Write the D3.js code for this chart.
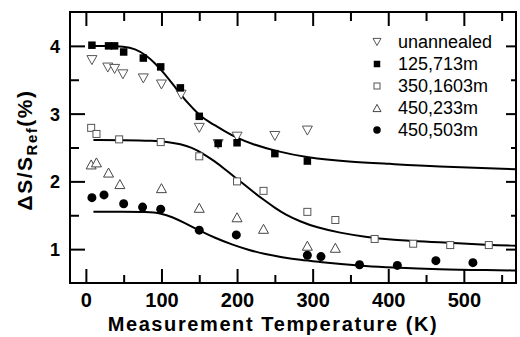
<!DOCTYPE html>
<html>
<head>
<meta charset="utf-8">
<script src="https://cdn.jsdelivr.net/npm/d3@7/dist/d3.min.js"></script>
<style>
  html, body { margin: 0; padding: 0; background: #fff; }
  svg { display: block; }
</style>
</head>
<body>
<svg id="chart" width="520" height="337"></svg>
<script>
// ---- data ----
const xMajorTicks = [0, 100, 200, 300, 400, 500];
const xMinorTicks = [50, 150, 250, 350, 450, 550];
const yMajorTicks = [1, 2, 3, 4];
const yMinorTicks = [1.5, 2.5, 3.5];

const seriesNames = ["unannealed", "125,713m", "350,1603m", "450,233m", "450,503m"];

const unannealedX = [8, 29, 38, 49, 76, 100, 126, 150, 175, 200, 250, 293];
const unannealedY = [3.79, 3.68, 3.66, 3.58, 3.52, 3.43, 3.28, 2.79, 2.55, 2.66, 2.67, 2.75];

const s125X = [8, 30, 38, 50, 76, 99, 125, 150, 175, 200, 250, 293];
const s125Y = [4.01, 4.0, 4.0, 3.91, 3.82, 3.69, 3.38, 2.96, 2.56, 2.57, 2.41, 2.30];

const s350X = [7, 14, 44, 99, 150, 200, 235, 293, 330, 382, 433, 482, 533];
const s350Y = [2.79, 2.70, 2.62, 2.58, 2.37, 2.00, 1.86, 1.55, 1.43, 1.15, 1.08, 1.06, 1.06];

const s233X = [7, 14, 30, 45, 100, 150, 200, 235, 293, 330];
const s233Y = [2.25, 2.28, 2.13, 1.96, 1.90, 1.61, 1.47, 1.30, 1.05, 1.02];

const s503X = [8, 24, 50, 75, 99, 150, 199, 293, 311, 362, 412, 463, 512];
const s503Y = [1.76, 1.80, 1.67, 1.62, 1.59, 1.28, 1.21, 0.91, 0.89, 0.77, 0.76, 0.83, 0.80];

// fitted curves
const fit125X = [10, 30, 50, 65, 80, 91, 105, 118, 135, 150, 162, 184, 200, 220, 250, 292, 349, 400, 460, 569];
const fit125Y = [4.0, 4.0, 3.99, 3.96, 3.86, 3.75, 3.58, 3.39, 3.15, 2.98, 2.88, 2.74, 2.64, 2.55, 2.45, 2.35, 2.29, 2.26, 2.22, 2.18];

const fit350X = [10, 50, 90, 110, 125, 140, 155, 170, 184, 197, 210, 222, 235, 250, 264, 283, 305, 336, 370, 402, 468, 534, 569];
const fit350Y = [2.61, 2.61, 2.60, 2.58, 2.55, 2.50, 2.41, 2.30, 2.18, 2.06, 1.95, 1.84, 1.73, 1.61, 1.51, 1.41, 1.32, 1.24, 1.18, 1.14, 1.10, 1.06, 1.05];

const fit503X = [10, 50, 80, 100, 115, 130, 151, 170, 195, 215, 235, 260, 283, 310, 336, 370, 402, 468, 534, 569];
const fit503Y = [1.55, 1.55, 1.55, 1.53, 1.47, 1.39, 1.27, 1.17, 1.06, 0.99, 0.93, 0.88, 0.84, 0.81, 0.78, 0.75, 0.73, 0.70, 0.69, 0.685];

// ---- layout ----
const L = 70, R = 516, T = 12, B = 283;
const svg = d3.select("#chart");
const x = d3.scaleLinear().domain([-21, 569]).range([L, R]);
const y = d3.scaleLinear().domain([0.5, 4.5]).range([B, T]);

const font = "'Liberation Sans', Arial, Helvetica, sans-serif";

function zip(xs, ys) { return xs.map((v, i) => [v, ys[i]]); }

// ---- axes (ticks inward) ----
function styleAxis(g) {
  g.select(".domain").remove();
  g.selectAll(".tick line").attr("stroke", "#000").attr("stroke-width", 2);
}
// bottom
svg.append("g").attr("transform", `translate(0,${B})`)
  .call(d3.axisBottom(x).tickValues(xMajorTicks).tickSize(-14).tickFormat(d3.format("d")))
  .call(styleAxis)
  .call(g => g.selectAll(".tick text")
    .attr("y", 24).attr("dy", 0)
    .attr("font-family", font).attr("font-weight", "bold").attr("font-size", 20).attr("fill", "#000"));
svg.append("g").attr("transform", `translate(0,${B})`)
  .call(d3.axisBottom(x).tickValues(xMinorTicks).tickSize(-8).tickFormat(""))
  .call(styleAxis);
// top
svg.append("g").attr("transform", `translate(0,${T})`)
  .call(d3.axisTop(x).tickValues(xMajorTicks).tickSize(-14).tickFormat(""))
  .call(styleAxis);
svg.append("g").attr("transform", `translate(0,${T})`)
  .call(d3.axisTop(x).tickValues(xMinorTicks).tickSize(-9).tickFormat(""))
  .call(styleAxis);
// left
svg.append("g").attr("transform", `translate(${L},0)`)
  .call(d3.axisLeft(y).tickValues(yMajorTicks).tickSize(-15).tickFormat(d3.format("d")))
  .call(styleAxis)
  .call(g => g.selectAll(".tick text")
    .attr("x", -10).attr("dy", "0.36em")
    .attr("font-family", font).attr("font-weight", "bold").attr("font-size", 18).attr("fill", "#000"));
svg.append("g").attr("transform", `translate(${L},0)`)
  .call(d3.axisLeft(y).tickValues(yMinorTicks).tickSize(-9).tickFormat(""))
  .call(styleAxis);
// right
svg.append("g").attr("transform", `translate(${R},0)`)
  .call(d3.axisRight(y).tickValues(yMajorTicks).tickSize(-10).tickFormat(""))
  .call(styleAxis);
svg.append("g").attr("transform", `translate(${R},0)`)
  .call(d3.axisRight(y).tickValues(yMinorTicks).tickSize(-5).tickFormat(""))
  .call(styleAxis);

// frame
svg.append("rect").attr("x", L).attr("y", T).attr("width", R - L).attr("height", B - T)
  .attr("fill", "none").attr("stroke", "#000").attr("stroke-width", 2);

// ---- fitted curves ----
const line = d3.line().x(d => x(d[0])).y(d => y(d[1])).curve(d3.curveBasis);
[zip(fit125X, fit125Y), zip(fit350X, fit350Y), zip(fit503X, fit503Y)].forEach(pts => {
  svg.append("path").datum(pts).attr("d", line)
    .attr("fill", "none").attr("stroke", "#000").attr("stroke-width", 2);
});

// ---- markers ----
function drawMarker(g, type, cx, cy, s) {
  if (type === "tridown") {
    const h = s * 0.9;
    g.append("path").attr("d", `M${cx - s / 2},${cy - h / 2}L${cx + s / 2},${cy - h / 2}L${cx},${cy + h / 2}Z`)
      .attr("fill", "#fff").attr("stroke", "#555").attr("stroke-width", 1);
  } else if (type === "triup") {
    const h = s * 0.9;
    g.append("path").attr("d", `M${cx - s / 2},${cy + h / 2}L${cx + s / 2},${cy + h / 2}L${cx},${cy - h / 2}Z`)
      .attr("fill", "#fff").attr("stroke", "#444").attr("stroke-width", 1);
  } else if (type === "sqfill") {
    g.append("rect").attr("x", cx - s / 2).attr("y", cy - s / 2).attr("width", s).attr("height", s)
      .attr("fill", "#000");
  } else if (type === "sqopen") {
    g.append("rect").attr("x", cx - s / 2).attr("y", cy - s / 2).attr("width", s).attr("height", s)
      .attr("fill", "#fff").attr("stroke", "#555").attr("stroke-width", 1);
  } else if (type === "circle") {
    g.append("circle").attr("cx", cx).attr("cy", cy).attr("r", s / 2).attr("fill", "#000");
  }
}

const series = [
  { name: seriesNames[0], type: "tridown", size: 10, pts: zip(unannealedX, unannealedY) },
  { name: seriesNames[2], type: "sqopen", size: 7, pts: zip(s350X, s350Y) },
  { name: seriesNames[3], type: "triup", size: 10, pts: zip(s233X, s233Y) },
  { name: seriesNames[1], type: "sqfill", size: 7.5, pts: zip(s125X, s125Y) },
  { name: seriesNames[4], type: "circle", size: 9, pts: zip(s503X, s503Y) }
];
const mg = svg.append("g");
series.forEach(s => s.pts.forEach(p => drawMarker(mg, s.type, x(p[0]), y(p[1]), s.size)));

// ---- legend ----
const legendTypes = { "unannealed": "tridown", "125,713m": "sqfill", "350,1603m": "sqopen", "450,233m": "triup", "450,503m": "circle" };
const legendSizes = { "unannealed": 8, "125,713m": 6.5, "350,1603m": 6, "450,233m": 8, "450,503m": 7.5 };
const lg = svg.append("g");
seriesNames.forEach((n, i) => {
  const cy = 42 + i * 22;
  drawMarker(lg, legendTypes[n], 377, cy, legendSizes[n]);
  lg.append("text").attr("x", 398).attr("y", cy + 6)
    .attr("font-family", font).attr("font-size", 18).attr("fill", "#000").text(n);
});

// ---- axis titles ----
svg.append("text").attr("x", 273).attr("y", 331).attr("text-anchor", "middle")
  .attr("font-family", font).attr("font-weight", "bold").attr("font-size", 20)
  .attr("letter-spacing", 1.6).attr("fill", "#000")
  .text("Measurement Temperature (K)");

const yt = svg.append("text").attr("transform", "translate(32,150) rotate(-90)")
  .attr("text-anchor", "middle").attr("font-family", font).attr("font-weight", "bold")
  .attr("font-size", 21).attr("letter-spacing", 1.5).attr("fill", "#000");
yt.append("tspan").text("ΔS/S");
yt.append("tspan").attr("font-size", 15).attr("dy", 5).text("Ref");
yt.append("tspan").attr("dy", -5).text("(%)");
</script>
</body>
</html>
